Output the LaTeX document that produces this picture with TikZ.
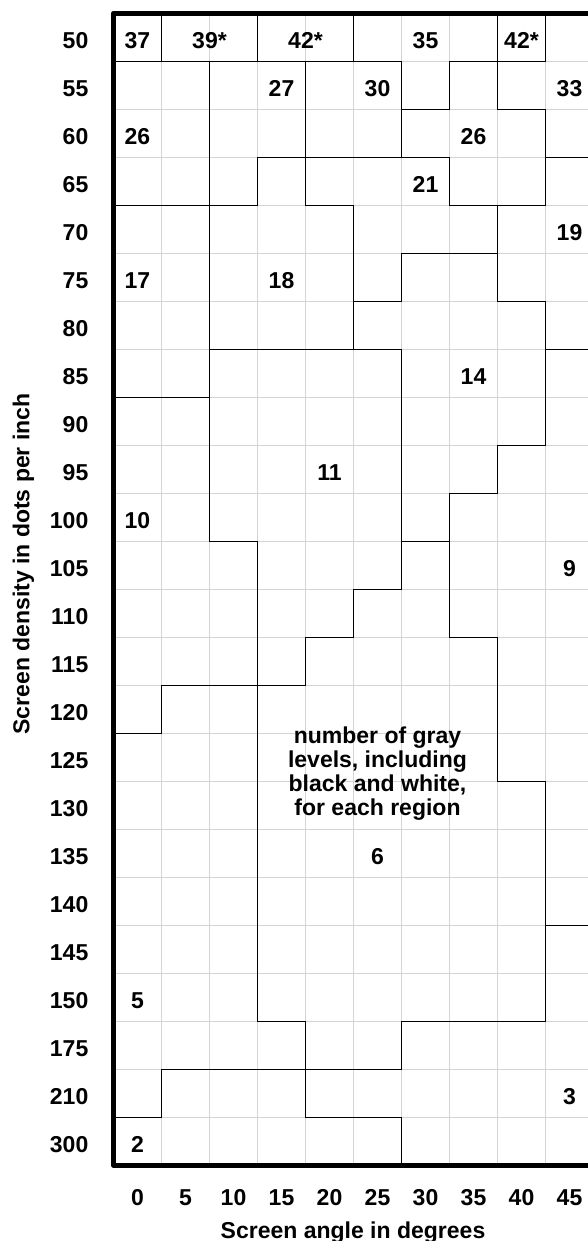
\documentclass[tikz,border=0pt]{standalone}
\usepackage{fontspec}
\setmainfont{Liberation Sans}
\begin{document}
\begin{tikzpicture}[x=1pt,y=-1pt,
  gridline/.style={draw=black!17, line width=1pt},
  regline/.style={draw=black, line width=1.4pt, line cap=rect, line join=miter},
  frameline/.style={draw=black, line width=5pt, line join=round},
  lab/.style={font=\fontsize{23}{24}\selectfont\bfseries, inner sep=0pt, anchor=base},
  ylab/.style={font=\fontsize{23}{24}\selectfont\bfseries, inner sep=0pt, anchor=base east}]
\useasboundingbox (0,0) rectangle (588,1241);
\clip (0,0) rectangle (588,1241);
\begin{scope}[shift={(113.5pt,-13.3pt)}, x={(48pt,0pt)}, y={(0pt,-48pt)}]
  % light grid
  \foreach \c in {1,...,10} \draw[gridline] (\c,0) -- (\c,24);
  \foreach \r in {1,...,23} \draw[gridline] (0,\r) -- (10.5,\r);
  % region boundaries
  \draw[regline] (1,0) -- (1,1);
  \draw[regline] (3,0) -- (3,1);
  \draw[regline] (5,0) -- (5,1);
  \draw[regline] (8,0) -- (8,1);
  \draw[regline] (9,0) -- (9,1);
  \draw[regline] (0,1) -- (6,1);
  \draw[regline] (7,1) -- (9,1);
  \draw[regline] (2,1) -- (2,11) -- (3,11) -- (3,21) -- (4,21) -- (4,23) -- (6,23) -- (6,24);
  \draw[regline] (0,4) -- (3,4) -- (3,3) -- (7,3);
  \draw[regline] (4,1) -- (4,4) -- (5,4) -- (5,7);
  \draw[regline] (6,1) -- (6,3);
  \draw[regline] (6,2) -- (7,2) -- (7,1);
  \draw[regline] (8,1) -- (8,2) -- (9,2) -- (9,4);
  \draw[regline] (7,3) -- (7,4) -- (9,4);
  \draw[regline] (9,3) -- (10.5,3);
  \draw[regline] (8,4) -- (8,6) -- (9,6) -- (9,9) -- (8,9) -- (8,10) -- (7,10) -- (7,13) -- (8,13) -- (8,16) -- (9,16) -- (9,21) -- (6,21) -- (6,22);
  \draw[regline] (5,6) -- (6,6) -- (6,5) -- (8,5);
  \draw[regline] (9,7) -- (10.5,7);
  \draw[regline] (2,7) -- (6,7) -- (6,12) -- (5,12) -- (5,13) -- (4,13) -- (4,14) -- (1,14) -- (1,15) -- (0,15);
  \draw[regline] (6,11) -- (7,11);
  \draw[regline] (0,8) -- (2,8);
  \draw[regline] (9,19) -- (10.5,19);
  \draw[regline] (6,22) -- (1,22) -- (1,23) -- (0,23);
  % frame
  \draw[frameline] (10.5,0) -- (0,0) -- (0,24) -- (10.5,24);
\end{scope}
% cell labels
\node[lab] (v37) at (137.5,48.8) {37};
\node[lab] (v39) at (209.5,48.8) {39*};
\node[lab] (v42a) at (305.5,48.8) {42*};
\node[lab] (v35) at (425.5,48.8) {35};
\node[lab] (v42b) at (521.5,48.8) {42*};
\node[lab] (v27) at (281.5,96.8) {27};
\node[lab] (v30) at (377.5,96.8) {30};
\node[lab] (v33) at (569.5,96.8) {33};
\node[lab] (v26a) at (137.5,144.8) {26};
\node[lab] (v26b) at (473.5,144.8) {26};
\node[lab] (v21) at (425.5,192.8) {21};
\node[lab] (v19) at (569.5,240.8) {19};
\node[lab] (v17) at (137.5,288.8) {17};
\node[lab] (v18) at (281.5,288.8) {18};
\node[lab] (v14) at (473.5,384.8) {14};
\node[lab] (v11) at (329.5,480.8) {11};
\node[lab] (v10) at (137.5,528.8) {10};
\node[lab] (v9) at (569.5,576.8) {9};
\node[lab] (v6) at (377.5,864.8) {6};
\node[lab] (v5) at (137.5,1008.8) {5};
\node[lab] (v3) at (569.5,1104.8) {3};
\node[lab] (v2) at (137.5,1152.8) {2};
% note
\node[lab] (n1) at (377.5,743.5) {number of gray};
\node[lab] (n2) at (377.5,767.5) {levels, including};
\node[lab] (n3) at (377.5,791.5) {black and white,};
\node[lab] (n4) at (377.5,815.5) {for each region};
% y labels
\foreach \t [count=\i from 0] in {50,55,60,65,70,75,80,85,90,95,100,105,110,115,120,125,130,135,140,145,150,175,210,300}
  \node[ylab] (y\i) at (88.5,48.8+48*\i) {\t};
% x labels
\foreach \t [count=\i from 0] in {0,5,10,15,20,25,30,35,40,45}
  \node[lab] (x\i) at (137.5+48*\i,1205) {\t};
\node[lab] (xtitle) at (353,1238) {Screen angle in degrees};
\node[lab, rotate=90] (ytitle) at (29.3,564) {Screen density in dots per inch};
\end{tikzpicture}
\end{document}
